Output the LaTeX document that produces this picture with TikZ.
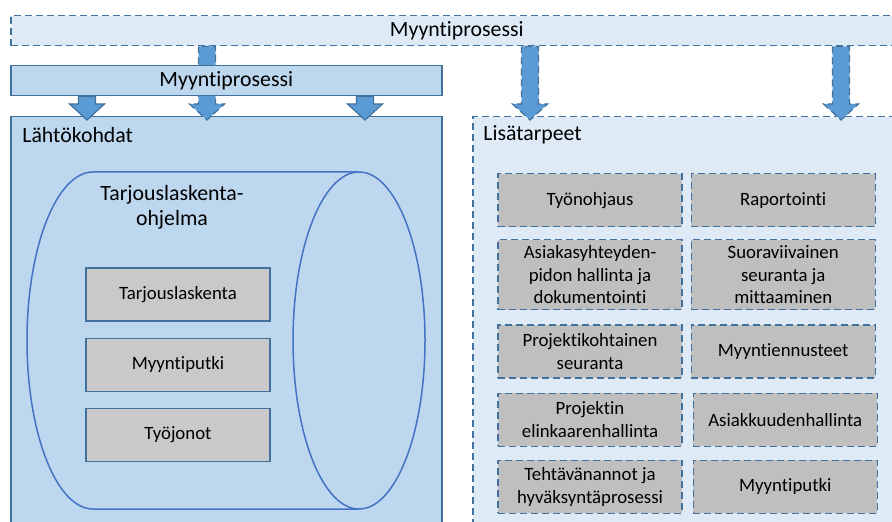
\documentclass[tikz,border=0pt]{standalone}
\usepackage{fontspec}
\setmainfont[Ligatures=NoCommon]{Carlito}
\usepackage{tikz}
\usetikzlibrary{positioning,calc}
\definecolor{paleblue}{HTML}{DEEBF7}
\definecolor{midblue}{HTML}{BDD7EE}
\definecolor{edgeblue}{HTML}{41719C}
\definecolor{cylblue}{HTML}{4472C4}
\definecolor{arrblue}{HTML}{5B9BD5}
\definecolor{lightgrey}{HTML}{C9C9C9}
\definecolor{midgrey}{HTML}{BFBFBF}

\begin{document}
\begin{tikzpicture}[x=0.5pt, y=-0.5pt,
    every node/.style={font=\fontsize{9.4}{11.25}\selectfont, inner sep=0pt, align=center},
    bigtxt/.style={font=\fontsize{10.9}{12.5}\selectfont},
    dashline/.style={dash pattern=on 3.5pt off 2pt},
    banner/.style={draw=edgeblue, line width=0.75pt, minimum height=15pt, anchor=north west, bigtxt},
    panel/.style={draw=edgeblue, line width=0.75pt, anchor=north west, minimum width=215.5pt, minimum height=215pt},
    tool/.style={draw=edgeblue, fill=lightgrey, line width=0.6pt, minimum width=92pt, minimum height=26.5pt},
    need/.style={draw=edgeblue, fill=midgrey, line width=0.6pt, dashline, minimum width=92pt, minimum height=26.5pt},
    flow/.style={fill=arrblue, draw=edgeblue, line width=0.6pt}]
        \useasboundingbox (0,0) rectangle (892,522);
        % the two panels
        \node[panel, fill=midblue] (base) at (10,116) {};
        \node[panel, fill=paleblue, dashline] (extra) at (472,116) {};
        \node[bigtxt, anchor=west] (baselbl) at (22,135) {Lähtökohdat};
        \node[bigtxt, anchor=west] (extralbl) at (483,135) {Lisätarpeet};
        % top banner and its arrows
        \node[banner, dashline, fill=paleblue, minimum width=446pt] (top) at (10,15) {Myyntiprosessi};
        \coordinate (e1) at (207,120);
        \coordinate (s1) at (top.south -| e1);
        \coordinate (e4) at (530,120);
        \coordinate (s4) at (top.south -| e4);
        \coordinate (e5) at (841,120);
        \coordinate (s5) at (top.south -| e5);
        \foreach \s/\e in {s1/e1,s4/e4,s5/e5}
          \draw[flow, dashline] ($(\s)+(-8.5,0)$) -- ($(\e)+(-8.5,-16)$) -- ($(\e)+(-17.5,-16)$) -- (\e)
            -- ($(\e)+(17.5,-16)$) -- ($(\e)+(8.5,-16)$) -- ($(\s)+(8.5,0)$) -- cycle;
        % second banner
        \node[banner, fill=midblue, minimum width=215.5pt] (proc) at (10,65) {Myyntiprosessi};
        \coordinate (e2) at (87,120);
        \coordinate (s2) at (proc.south -| e2);
        \coordinate (e3) at (365,120);
        \coordinate (s3) at (proc.south -| e3);
        \foreach \s/\e in {s2/e2,s3/e3}
          \draw[flow] ($(\s)+(-8.5,0)$) -- ($(\e)+(-8.5,-16)$) -- ($(\e)+(-17.5,-16)$) -- (\e)
            -- ($(\e)+(17.5,-16)$) -- ($(\e)+(8.5,-16)$) -- ($(\s)+(8.5,0)$) -- cycle;
        % cylinder
        \draw[cylblue, line width=0.75pt] (358,172) -- (93,172)
          arc[start angle=90, end angle=270, x radius=33pt, y radius=84.25pt] -- (358,509);
        \draw[cylblue, line width=0.75pt] (359,340.5) ellipse[x radius=33pt, y radius=84.25pt];
        \node[bigtxt] (prog) at (172,207) {Tarjouslaskenta-\\ohjelma};
        \node[tool] (calc) at (178,294.5) {Tarjouslaskenta};
        \node[tool, below=8pt of calc] (pipe) {Myyntiputki};
        \node[tool, below=8pt of pipe] (queue) {Työjonot};
        % needs
        \node[need, anchor=north] (steer) at (590,173) {Työnohjaus};
        \node[need, right=4pt of steer] (report) {Raportointi};
        \node[need, minimum height=35pt, below=6pt of steer] (crm) {Asiakasyhteyden-\\pidon hallinta ja\\dokumentointi};
        \node[need, minimum height=35pt, right=4pt of crm] (track) {Suoraviivainen\\seuranta ja\\mittaaminen};
        \node[need, below=7pt of crm] (projtrack) {Projektikohtainen\\seuranta};
        \node[need, right=4pt of projtrack] (forecast) {Myyntiennusteet};
        \node[need, below=7pt of projtrack] (life) {Projektin\\elinkaarenhallinta};
        \node[need, right=5pt of life] (cust) {Asiakkuudenhallinta};
        \node[need, below=6.5pt of life] (approve) {Tehtävänannot ja\\hyväksyntäprosessi};
        \node[need, right=5pt of approve] (pipe2) {Myyntiputki};
      \end{tikzpicture}
\end{document}
